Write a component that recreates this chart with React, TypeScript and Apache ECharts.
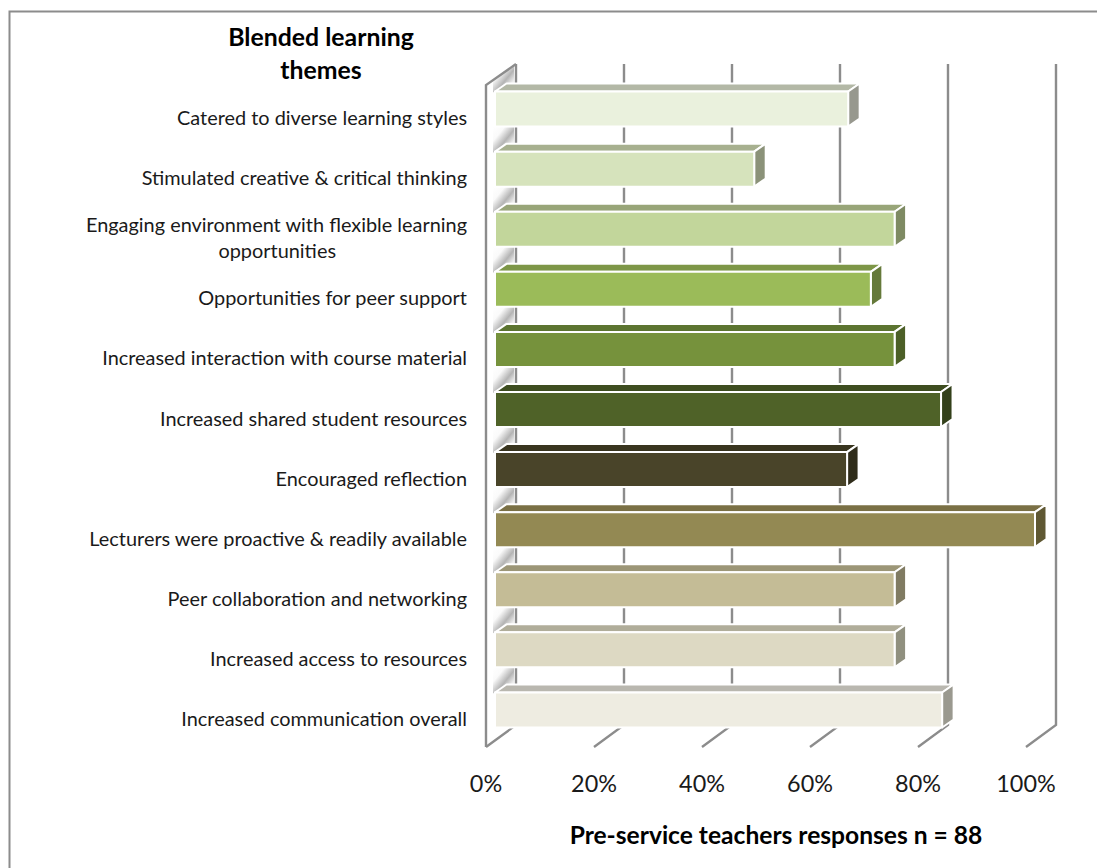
import React, { useEffect, useRef } from "react";
import * as echarts from "echarts";

const categories = [
  "Catered to diverse learning styles",
  "Stimulated creative & critical thinking",
  "Engaging environment with flexible learning\nopportunities",
  "Opportunities for peer support",
  "Increased interaction with course material",
  "Increased shared student resources",
  "Encouraged reflection",
  "Lecturers were proactive & readily available",
  "Peer collaboration and networking",
  "Increased access to resources",
  "Increased communication overall",
];
const values = [65.4, 48, 74, 69.6, 74, 82.6, 65.2, 100, 74, 74, 82.8];
const frontColors = ["#EAF1DD", "#D6E3BC", "#C2D69B", "#9BBB59", "#76923C", "#4F6228", "#494429", "#938953", "#C4BC96", "#DDD9C3", "#EEECE1"];
const topColors = ["#B3B8A6", "#A7B08F", "#98A578", "#7D9647", "#5C7430", "#3E4D20", "#39351F", "#7A7045", "#9C9677", "#B0AD9A", "#B9B7AF"];
const sideColors = ["#97988E", "#8B9279", "#7E8A63", "#65793A", "#4C5F27", "#33401A", "#2F2C1A", "#5F5833", "#807B62", "#90907F", "#9A998F"];
const tickValues = [0, 20, 40, 60, 80, 100];

const FONT = "Lato, Carlito, Calibri, sans-serif";
const LABEL_SIZE = 19.9;
const BACK_DX = 30;
const BACK_DY = 22;
const BAR_DX = 9;
const BAR_DY = -6;
const BAR_H = 35;
const TOP_DX = 11.5;
const TOP_DY = 8;

const renderPatch = (params: any, api: any) => {
  const idx = api.value(1);
  const [x, yc] = api.coord([0, idx]);
  const x0 = x + BAR_DX;
  const yF = yc + BAR_DY - BAR_H / 2;
  const leftTop = idx === 0 ? yF - 12 : yF - 25;
  return {
    type: "polygon",
    silent: true,
    shape: {
      points: [
        [x0 - 2, yF + 1],
        [x0 + TOP_DX, yF - TOP_DY],
        [x0 + 19, yF - TOP_DY],
        [x0 + 19, yF - 25],
        [x0 - 2, leftTop],
      ],
    },
    style: {
      fill: {
        type: "linear", x: 0, y: 0, x2: 1, y2: 1,
        colorStops: [
          { offset: 0, color: "#ffffff" },
          { offset: 0.28, color: "#fafafa" },
          { offset: 0.56, color: "#b4b4b4" },
          { offset: 0.76, color: "#ececec" },
          { offset: 1, color: "#ffffff" },
        ],
      },
      stroke: null,
    },
  };
};

const renderWall = (params: any, api: any) => {
  const v = api.value(0);
  const [x] = api.coord([v, 0]);
  const cs = params.coordSys;
  const floorY = cs.y + cs.height + 1;
  const topY = cs.y;
  const line = { stroke: "#8c8c8c", lineWidth: 2.4, fill: null };
  const children: any[] = [
    {
      type: "polyline",
      shape: {
        points: [
          [x + BACK_DX, topY - BACK_DY + 1],
          [x + BACK_DX, floorY - BACK_DY],
          [x, floorY],
        ],
      },
      style: line,
    },
  ];
  if (v === 0) {
    children.push({
      type: "polyline",
      shape: {
        points: [
          [x + BACK_DX, topY - BACK_DY + 1],
          [x, topY],
          [x, floorY],
        ],
      },
      style: line,
    });
  }
  return { type: "group", silent: true, children };
};

const renderBar = (params: any, api: any) => {
  const v = api.value(0);
  const idx = api.value(1);
  const [x1, yc] = api.coord([v, idx]);
  const [x] = api.coord([0, idx]);
  const l = x + BAR_DX;
  const r = x1 + BAR_DX;
  const t = yc + BAR_DY - BAR_H / 2;
  const b = t + BAR_H;
  const edge = { stroke: "#ffffff", lineWidth: 2, lineJoin: "round" };
  return {
    type: "group",
    children: [
      {
        type: "polygon",
        shape: { points: [[l, t], [l + TOP_DX, t - TOP_DY], [r + TOP_DX, t - TOP_DY], [r, t]] },
        style: { fill: topColors[idx], ...edge },
      },
      {
        type: "polygon",
        shape: { points: [[r, t], [r + TOP_DX, t - TOP_DY], [r + TOP_DX, b - TOP_DY], [r, b]] },
        style: { fill: sideColors[idx], ...edge },
      },
      {
        type: "polygon",
        shape: { points: [[l, t], [r, t], [r, b], [l, b]] },
        style: { fill: frontColors[idx], ...edge },
      },
    ],
  };
};

export default function App() {
  const ref = useRef<HTMLDivElement>(null);
  useEffect(() => {
    const chart = echarts.init(ref.current!, null, { renderer: "svg" });
    chart.setOption({
      animation: false,
      backgroundColor: "#ffffff",
      title: {
        text: "Blended learning\nthemes",
        left: 316,
        top: 15,
        textAlign: "center",
        textStyle: { fontFamily: FONT, fontSize: 24.8, fontWeight: "bold", color: "#000000", lineHeight: 33 },
      },
      grid: { left: 486, top: 85, width: 540, height: 661 },
      xAxis: {
        type: "value",
        min: 0,
        max: 100,
        interval: 20,
        axisLine: { show: false },
        axisTick: { show: false },
        splitLine: { show: false },
        axisLabel: {
          formatter: "{value}%",
          fontFamily: FONT,
          fontSize: 23.4,
          color: "#1a1a1a",
          margin: 25,
        },
        name: "Pre-service teachers responses n = 88",
        nameLocation: "middle",
        nameGap: 76,
        nameTextStyle: {
          fontFamily: FONT,
          fontSize: 24.6,
          fontWeight: "bold",
          color: "#000000",
          padding: [0, 0, 0, 40],
        },
      },
      yAxis: {
        type: "category",
        inverse: true,
        data: categories,
        axisLine: { show: false },
        axisTick: { show: false },
        splitLine: { show: false },
        axisLabel: {
          interval: 0,
          margin: 19,
          fontFamily: FONT,
          fontSize: LABEL_SIZE,
          color: "#1a1a1a",
          padding: [4, 0, 0, 0],
          lineHeight: 26,
          formatter: (value: string) => {
            const parts = value.split("\n");
            return parts.length > 1 ? `{a|${parts[0]}}\n{b|${parts[1]}}` : value;
          },
          rich: {
            a: { fontFamily: FONT, fontSize: LABEL_SIZE, color: "#1a1a1a", lineHeight: 26 },
            b: { fontFamily: FONT, fontSize: LABEL_SIZE, color: "#1a1a1a", lineHeight: 26, padding: [0, 131, 0, 0] },
          },
        },
      },
      series: [
        {
          type: "custom",
          name: "wall shading",
          renderItem: renderPatch,
          encode: { x: 0, y: 1 },
          data: values.map((v, i) => [v, i]),
          silent: true,
          z: 1,
        },
        {
          type: "custom",
          name: "gridlines",
          renderItem: renderWall,
          encode: { x: 0 },
          data: tickValues.map((v) => [v, 0]),
          silent: true,
          z: 2,
        },
        {
          type: "custom",
          name: "responses",
          renderItem: renderBar,
          encode: { x: 0, y: 1 },
          data: values.map((v, i) => [v, i]),
          z: 3,
        },
      ],
      graphic: [
        {
          type: "polyline",
          z: 10,
          silent: true,
          shape: { points: [[9.5, 868], [9.5, 11.5], [1097, 11.5]] },
          style: { stroke: "#8c8c8c", lineWidth: 2, fill: null },
        },
      ],
    });
    return () => chart.dispose();
  }, []);
  return <div ref={ref} style={{ position: "fixed", left: 0, top: 0, width: 1097, height: 868 }} />;
}
